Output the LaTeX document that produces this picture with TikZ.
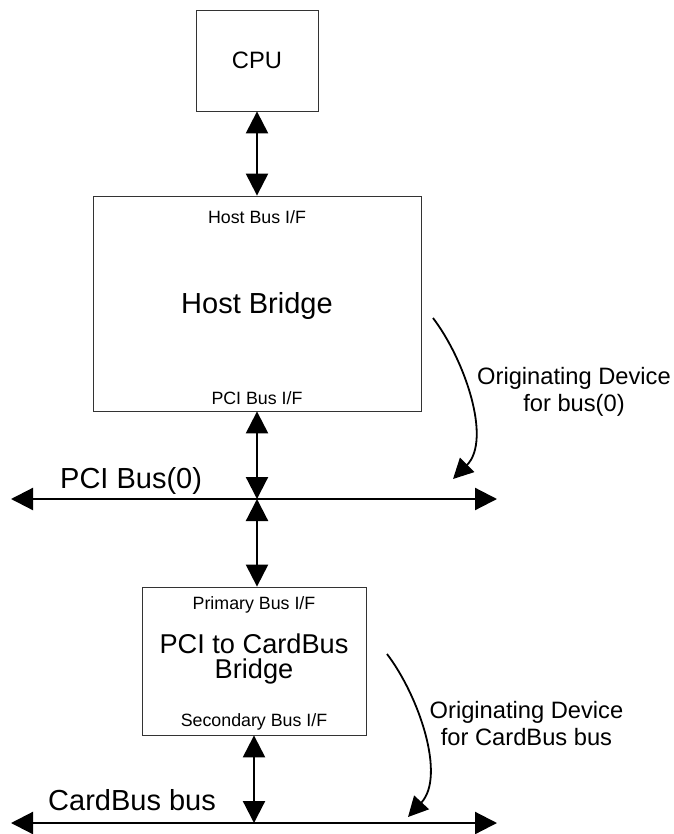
\documentclass[tikz,border=0pt]{standalone}
\usepackage{fontspec}
\setmainfont{Liberation Sans}
\usetikzlibrary{arrows.meta}

\begin{document}
\begin{tikzpicture}[x=1pt,y=-1pt,
    box/.style={draw=black!80,line width=.8pt,inner sep=0},
    bus/.style={line width=2.2pt,{Triangle[length=22pt,width=22pt]}-{Triangle[length=22pt,width=22pt]}},
    turn/.style={line width=1.8pt,-{Triangle[length=20pt,width=20pt]}},
    small/.style={font=\fontsize{17.8}{21}\selectfont,inner sep=0},
    big/.style={font=\fontsize{29}{25}\selectfont,inner sep=0},
    note/.style={font=\fontsize{23.7}{27}\selectfont,align=center,inner sep=0}]
    \useasboundingbox (0,0) rectangle (673,834);
    % boxes
    \node[box,minimum width=122pt,minimum height=101pt,font=\fontsize{23.7}{28}\selectfont] (cpu) at (257,60.5) {CPU};
    \node[box,minimum width=328pt,minimum height=215pt] (host) at (257,303.5) {};
    \node[box,minimum width=224pt,minimum height=148pt] (bridge) at (254,661) {};
    \node[small,anchor=base] (hostif) at (257,224) {Host Bus I/F};
    \node[big,anchor=base] (hostname) at (257,313) {Host Bridge};
    \node[small,anchor=base] (hostpci) at (257,404) {PCI Bus I/F};
    \node[small,anchor=base] (primif) at (254,609) {Primary Bus I/F};
    \node[note,font=\fontsize{27.2}{25}\selectfont] (bridgename) at (254,658.5) {PCI to CardBus\\Bridge};
    \node[small,anchor=base] (secif) at (254,726) {Secondary Bus I/F};
    % buses
    \coordinate (pcil) at (11,499);
    \coordinate (pcir) at (497,499);
    \coordinate (pcij) at (257,499);
    \coordinate (cbl) at (11,823);
    \coordinate (cbr) at (497,823);
    \coordinate (cbj) at (254,823);
    \draw[bus] (pcil) -- (pcir);
    \draw[bus] (cbl) -- (cbr);
    \node[big,anchor=base west] (pcilabel) at (60,488) {PCI Bus(0)};
    \node[big,anchor=base west] (cblabel) at (48,810) {CardBus bus};
    \draw[bus] (cpu) -- (host);
    \draw[bus] (host) -- (pcij);
    \draw[bus] (pcij) -- (pcij |- bridge.north);
    \draw[bus] (bridge) -- (cbj);
    % originating devices
    \coordinate (org0a) at (433,318);
    \coordinate (org0b) at (453,479);
    \coordinate (org1a) at (387,654);
    \coordinate (org1b) at (408,817);
    \draw[turn] (org0a) .. controls (465,360) and (492,440) .. (org0b);
    \draw[turn] (org1a) .. controls (419,696) and (446,776) .. (org1b);
    \node[note,anchor=north] (org0note) at (574,367.5) {Originating Device\\for bus(0)};
    \node[note,anchor=north] (org1note) at (526.5,701.5) {Originating Device\\for CardBus bus};
\end{tikzpicture}
\end{document}
